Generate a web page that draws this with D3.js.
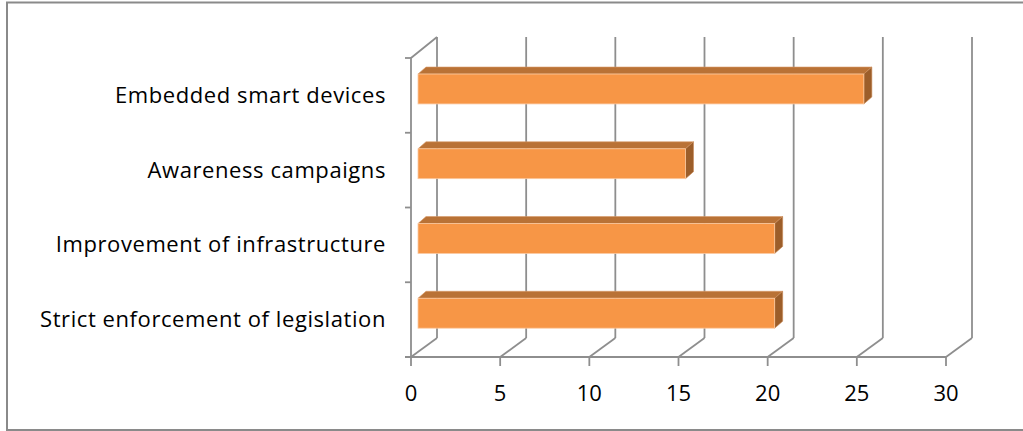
<!DOCTYPE html>
<html><head><meta charset="utf-8">
<script src="https://cdn.jsdelivr.net/npm/d3@7"></script>
<style>body{margin:0;background:#fff}svg{display:block}</style>
</head><body>
<script>
const categories = ["Strict enforcement of legislation","Improvement of infrastructure","Awareness campaigns","Embedded smart devices"];
const values = [20, 20, 15, 25];
const xTicks = [0,5,10,15,20,25,30];

const W=1023,H=431;
const FONT="'Open Sans', Lato, sans-serif";
const svg=d3.select("body").append("svg").attr("width",W).attr("height",H);
svg.append("rect").attr("x",7).attr("y",2.5).attr("width",1030).attr("height",427.5)
  .attr("fill","none").attr("stroke","#8a8a8a").attr("stroke-width",2);

const x=d3.scaleLinear().domain([0,30]).range([411,946]);
const y=d3.scaleBand().domain(categories).range([357,58]).padding(0);
const wall={dx:26,dy:-19};
const barFront={dx:7,dy:-6.4}, barBack={dx:15,dy:-13.4};
const grid="#8e8e8e";
const g=svg.append("g");

xTicks.forEach(v=>{
  g.append("line").attr("x1",x(v)+wall.dx).attr("x2",x(v)+wall.dx)
   .attr("y1",y.range()[0]+wall.dy).attr("y2",y.range()[1]+wall.dy-2)
   .attr("stroke",grid).attr("stroke-width",1.8);
  g.append("line").attr("x1",x(v)).attr("y1",y.range()[0])
   .attr("x2",x(v)+wall.dx).attr("y2",y.range()[0]+wall.dy)
   .attr("stroke",grid).attr("stroke-width",1.8);
});
g.append("path").attr("d",`M${x(0)},${y.range()[0]}V${y.range()[1]}L${x(0)+wall.dx},${y.range()[1]+wall.dy-2}`)
 .attr("fill","none").attr("stroke",grid).attr("stroke-width",1.8);
g.append("line").attr("x1",x(0)-6).attr("x2",x(30)).attr("y1",357).attr("y2",357)
 .attr("stroke",grid).attr("stroke-width",1.8);
xTicks.forEach(v=>{
  g.append("line").attr("x1",x(v)).attr("x2",x(v)).attr("y1",357).attr("y2",366)
   .attr("stroke",grid).attr("stroke-width",1.8);
  g.append("text").attr("x",x(v)).attr("y",400.5).attr("text-anchor","middle")
   .attr("font-family",FONT).attr("font-size",22).attr("fill","#000").text(v);
});
const bounds=[y.range()[1]].concat(categories.map(c=>y(c)+y.bandwidth()));
bounds.forEach(b=>{
  g.append("line").attr("x1",x(0)-6).attr("x2",x(0)).attr("y1",b).attr("y2",b)
   .attr("stroke",grid).attr("stroke-width",1.8);
});
const bh=y.bandwidth()*0.4;
const labels=[];
categories.forEach((c,i)=>{
  const yc=y(c)+y.bandwidth()/2;
  const x0=x(0), x1=x(values[i]);
  const fy0=yc-bh/2+barFront.dy, fy1=yc+bh/2+barFront.dy;
  const fx0=x0+barFront.dx, fx1=x1+barFront.dx;
  const ddx=barBack.dx-barFront.dx, ddy=barBack.dy-barFront.dy;
  g.append("path").attr("d",`M${fx0},${fy0}L${fx0+ddx},${fy0+ddy}L${fx1+ddx},${fy0+ddy}L${fx1},${fy0}Z`)
   .attr("fill","#b97236").attr("stroke","#d99a68").attr("stroke-width",0.6);
  g.append("path").attr("d",`M${fx1},${fy0}L${fx1+ddx},${fy0+ddy}L${fx1+ddx},${fy1+ddy}L${fx1},${fy1}Z`)
   .attr("fill","#9c5e2a").attr("stroke","#c98a58").attr("stroke-width",0.6);
  g.append("rect").attr("x",fx0).attr("y",fy0).attr("width",fx1-fx0).attr("height",fy1-fy0)
   .attr("fill","#f79646").attr("stroke","#fbc9a0").attr("stroke-width",0.8);
  labels.push(g.append("text").attr("x",386).attr("y",yc+7.5).attr("text-anchor","end")
   .attr("font-family",FONT).attr("font-size",22).attr("fill","#000").text(c));
});
const w=labels[0].node().getComputedTextLength();
const ls=(346-w)/(categories[0].length);
labels.forEach(t=>t.attr("letter-spacing",ls));
</script>
</body></html>
